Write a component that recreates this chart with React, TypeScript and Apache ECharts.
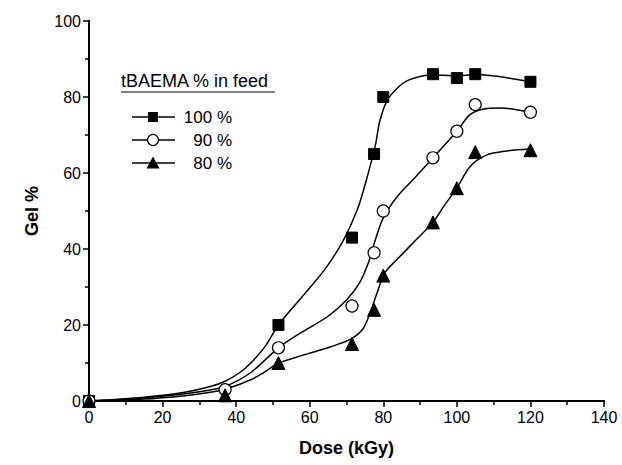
import React, { useEffect, useRef } from "react";
import * as echarts from "echarts";

// measured points (markers)
const dose100 = [0, 51.5, 71.5, 77.5, 80, 93.5, 100, 105, 120];
const gel100 = [0, 20, 43, 65, 80, 86, 85, 86, 84];
const dose90 = [0, 37, 51.5, 71.5, 77.5, 80, 93.5, 100, 105, 120];
const gel90 = [0, 3, 14, 25, 39, 50, 64, 71, 78, 76];
const dose80 = [0, 37, 51.5, 71.5, 77.5, 80, 93.5, 100, 105, 120];
const gel80 = [0, 1.5, 10, 15, 24, 33, 47, 56, 65.5, 66];

// fitted curves
const curve100X = [0, 15, 26, 33, 37, 41, 44, 48, 51.5, 58, 64, 69, 73, 75.5, 77, 78, 79, 81, 84, 87, 93, 100, 105, 120];
const curve100Y = [0, 1, 2.3, 3.8, 5.2, 7.5, 10, 14.5, 20, 27.5, 34.5, 42, 50.5, 58.5, 64, 68, 73.5, 79, 82.5, 84.5, 85.8, 85.6, 85.9, 84];
const curve90X = [0, 15, 26, 33, 37, 44, 51.5, 58, 65, 70, 73.5, 76, 77.7, 80, 83.7, 88.5, 93.5, 100, 103.5, 107, 112, 120];
const curve90Y = [0, 0.8, 1.9, 2.9, 3.8, 7.5, 14, 18.2, 22.3, 26.6, 31, 36.5, 42, 48.2, 53.7, 58.7, 64, 71, 75.3, 76.8, 77.1, 76];
const curve80X = [0, 15, 26, 33, 37, 44, 48, 51.5, 58, 65.5, 71, 74.5, 76.4, 78.3, 80.4, 84.5, 89, 93.5, 97, 100, 103.5, 108, 113.6, 120];
const curve80Y = [0, 0.5, 1.4, 2.3, 3.1, 5.6, 7.8, 10, 12, 14.2, 16.2, 19, 23.2, 28.4, 33.7, 38, 42.5, 47, 52, 56, 61.6, 64.7, 65.8, 66.3];

const seriesNames = ["100 %", "90 %", "80 %"];
const legendTitle = "tBAEMA % in feed";
const xTitle = "Dose (kGy)";
const yTitle = "Gel %";

const FONT = "Liberation Sans, Arial, sans-serif";

function pairs(xs: number[], ys: number[]) {
  return xs.map((x, i) => [x, ys[i]]);
}

export default function App() {
  const ref = useRef<HTMLDivElement>(null);
  useEffect(() => {
    if (!ref.current) return;
    const chart = echarts.init(ref.current, undefined, { renderer: "svg" });
    const axisLine = { show: true, lineStyle: { color: "#000", width: 2 } };
    const legY = [117, 140, 163];
    const legendGraphics: any[] = [
      {
        type: "text",
        left: 121,
        top: 72,
        style: { text: legendTitle, fontFamily: FONT, fontSize: 18, fill: "#000" },
      },
      {
        type: "line",
        shape: { x1: 121, y1: 92, x2: 275, y2: 92 },
        style: { stroke: "#000", lineWidth: 1.2 },
      },
    ];
    legY.forEach((y, i) => {
      legendGraphics.push({
        type: "line",
        shape: { x1: 132, y1: y, x2: 175, y2: y },
        style: { stroke: "#000", lineWidth: 1.5 },
      });
      if (i === 0) {
        legendGraphics.push({
          type: "rect",
          shape: { x: 148, y: y - 5, width: 10, height: 10 },
          style: { fill: "#000" },
        });
      } else if (i === 1) {
        legendGraphics.push({
          type: "circle",
          shape: { cx: 153, cy: y, r: 5.5 },
          style: { fill: "#fff", stroke: "#000", lineWidth: 1.2 },
        });
      } else {
        legendGraphics.push({
          type: "polygon",
          shape: { points: [[153, y - 6.5], [146.5, y + 5.5], [159.5, y + 5.5]] },
          style: { fill: "#000" },
        });
      }
      legendGraphics.push({
        type: "text",
        x: 232,
        y: y,
        style: {
          text: seriesNames[i],
          fontFamily: FONT,
          fontSize: 17,
          fill: "#000",
          align: "right",
          verticalAlign: "middle",
        },
      });
    });

    const curve = {
      type: "line",
      smooth: 0.3,
      symbol: "none",
      lineStyle: { color: "#000", width: 1.5 },
      z: 2,
      silent: true,
    };
    const marks = {
      type: "scatter",
      itemStyle: { color: "#000", borderColor: "#000", opacity: 1 },
      z: 3,
    };

    chart.setOption({
      animation: false,
      backgroundColor: "#fff",
      grid: { left: 89, right: 18, top: 21, bottom: 64 },
      xAxis: [
        {
          type: "value",
          min: 0,
          max: 140,
          interval: 20,
          position: "bottom",
          axisLine,
          axisTick: { show: true, inside: false, length: 6, lineStyle: { color: "#000", width: 1.5 } },
          minorTick: { show: true, splitNumber: 2, length: 4, lineStyle: { color: "#000", width: 1.5 } },
          splitLine: { show: false },
          axisLabel: { color: "#000", fontFamily: FONT, fontSize: 16, margin: 8 },
          name: xTitle,
          nameLocation: "middle",
          nameGap: 38,
          nameTextStyle: { color: "#000", fontFamily: FONT, fontSize: 18, fontWeight: "bold" },
        },
        {
          type: "value",
          min: 0,
          max: 140,
          position: "top",
          axisLine,
          axisTick: { show: false },
          axisLabel: { show: false },
          splitLine: { show: false },
        },
      ],
      yAxis: [
        {
          type: "value",
          min: 0,
          max: 100,
          interval: 20,
          position: "left",
          axisLine,
          axisTick: { show: true, inside: false, length: 6, lineStyle: { color: "#000", width: 1.5 } },
          minorTick: { show: true, splitNumber: 2, length: 4, lineStyle: { color: "#000", width: 1.5 } },
          splitLine: { show: false },
          axisLabel: { color: "#000", fontFamily: FONT, fontSize: 16, margin: 8 },
          name: yTitle,
          nameLocation: "middle",
          nameGap: 48,
          nameRotate: 90,
          nameTextStyle: { color: "#000", fontFamily: FONT, fontSize: 18, fontWeight: "bold" },
        },
        {
          type: "value",
          min: 0,
          max: 100,
          position: "right",
          axisLine,
          axisTick: { show: false },
          axisLabel: { show: false },
          splitLine: { show: false },
        },
      ],
      graphic: legendGraphics,
      series: [
        { ...curve, name: seriesNames[0] + " fit", data: pairs(curve100X, curve100Y) },
        { ...curve, name: seriesNames[1] + " fit", data: pairs(curve90X, curve90Y) },
        { ...curve, name: seriesNames[2] + " fit", data: pairs(curve80X, curve80Y) },
        {
          ...marks,
          name: seriesNames[0],
          data: pairs(dose100, gel100),
          symbol: "rect",
          symbolSize: 11,
        },
        {
          ...marks,
          name: seriesNames[1],
          data: pairs(dose90, gel90),
          symbol: "circle",
          symbolSize: 12,
          itemStyle: { color: "#fff", borderColor: "#000", borderWidth: 1.2, opacity: 1 },
        },
        {
          ...marks,
          name: seriesNames[2],
          data: pairs(dose80, gel80),
          symbol: "triangle",
          symbolSize: 13,
        },
      ],
    });
    return () => chart.dispose();
  }, []);
  return (
    <div
      ref={ref}
      style={{ position: "fixed", left: 0, top: 0, width: 622, height: 465, background: "#fff" }}
    />
  );
}
